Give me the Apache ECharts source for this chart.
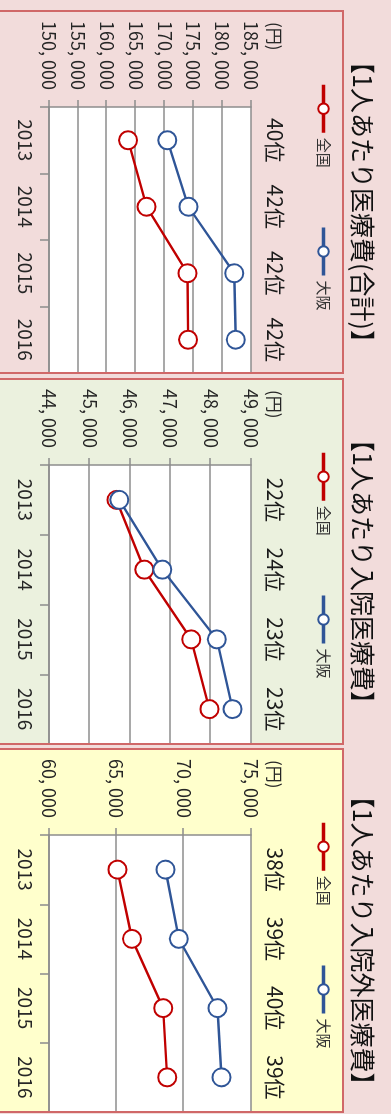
<!DOCTYPE html>
<html lang="ja">
<head>
<meta charset="utf-8">
<title>1人あたり医療費</title>
<script src="https://cdn.jsdelivr.net/npm/echarts@6/dist/echarts.min.js"></script>
<style>
  html, body { margin: 0; padding: 0; background: #f2dcdb; overflow: hidden; width: 391px; height: 1114px; }
  /* the chart is laid out landscape and turned a quarter turn clockwise */
  #chart {
    position: absolute; left: 0; top: 0;
    width: 1114px; height: 391px;
    transform-origin: 0 0;
    transform: translate(391px, 0) rotate(90deg);
  }
</style>
</head>
<body>
<div id="chart"></div>
<script>
// ---- data ----
const years = ['2013', '2014', '2015', '2016'];
const seriesNames = ['全国', '大阪'];

const titles = ['【1人あたり医療費(合計)】', '【1人あたり入院医療費】', '【1人あたり入院外医療費】'];

// 合計
const totalNational = [163700, 166900, 174000, 174100];
const totalOsaka    = [170500, 174150, 182100, 182350];
const totalRank     = ['40位', '42位', '42位', '42位'];
const totalAxis     = [150000, 185000, 5000];

// 入院
const inpatientNational = [45670, 46360, 47520, 47970];
const inpatientOsaka    = [45740, 46805, 48155, 48545];
const inpatientRank     = ['22位', '24位', '23位', '23位'];
const inpatientAxis     = [44000, 49000, 1000];

// 入院外
const outpatientNational = [65080, 66160, 68475, 68775];
const outpatientOsaka    = [68650, 69640, 72510, 72810];
const outpatientRank     = ['38位', '39位', '40位', '39位'];
const outpatientAxis     = [60000, 75000, 5000];

const unitLabel = '(円)';

// ---- layout & style ----
const panels = [
  { national: totalNational, osaka: totalOsaka, rank: totalRank, axis: totalAxis,
    box: [11, 373], fill: '#f2dcdb', plotLeft: 107 },
  { national: inpatientNational, osaka: inpatientOsaka, rank: inpatientRank, axis: inpatientAxis,
    box: [379, 744], fill: '#ebf1de', plotLeft: 465 },
  { national: outpatientNational, osaka: outpatientOsaka, rank: outpatientRank, axis: outpatientAxis,
    box: [749, 1112], fill: '#ffffcc', plotLeft: 835 }
];

const RED = '#c00000';
const BLUE = '#2f5597';
const GRID_GRAY = '#8c8c8c';
const TEXT = '#262626';
const FONT = '"Noto Sans CJK JP", "Noto Sans", sans-serif';
const PLOT_TOP = 140;
const PLOT_HEIGHT = 202;

function yen(v) {
  const k = Math.floor(v / 1000);
  const r = String(v % 1000).padStart(3, '0');
  return k + ', ' + r;
}

const option = {
  backgroundColor: '#f2dcdb',
  animation: false,
  title: [], legend: [], grid: [], xAxis: [], yAxis: [], series: [], graphic: []
};

panels.forEach((p, i) => {
  const [x0, x1] = p.box;

  // panel box: fill underneath, border on top
  option.graphic.push({
    type: 'rect', z: -10, silent: true,
    shape: { x: x0, y: 48, width: x1 - x0, height: 360 },
    style: { fill: p.fill }
  });
  option.graphic.push({
    type: 'rect', z: 100, silent: true,
    shape: { x: x0, y: 48, width: x1 - x0, height: 360 },
    style: { fill: 'none', stroke: '#d06868', lineWidth: 2 }
  });
  option.graphic.push({
    type: 'text', z: 50, silent: true,
    style: { x: x0 + 11, y: 117, text: unitLabel, font: '17px ' + FONT, fill: TEXT,
             textVerticalAlign: 'middle' }
  });

  option.title.push({
    text: titles[i],
    left: (x0 + x1) / 2 + 5, top: 11, textAlign: 'center',
    textStyle: { fontFamily: FONT, fontSize: 25, fontWeight: 'normal', color: '#111' }
  });

  option.legend.push({
    data: seriesNames,
    left: x0 + 67, top: 55,
    itemWidth: 48, itemHeight: 13, itemGap: 58,
    lineStyle: { width: 3.5 },
    itemStyle: { borderWidth: 2.5 },
    textStyle: { fontFamily: FONT, fontSize: 15, color: '#333' }
  });

  option.grid.push({
    left: p.plotLeft, top: PLOT_TOP, width: x1 - p.plotLeft, height: PLOT_HEIGHT,
    show: true, backgroundColor: '#ffffff', borderWidth: 0
  });

  // years along the bottom
  option.xAxis.push({
    type: 'category', gridIndex: i, data: years, boundaryGap: true,
    axisLine: { lineStyle: { color: GRID_GRAY, width: 1.5 } },
    axisTick: { show: true, length: 9, lineStyle: { color: GRID_GRAY, width: 1.5 } },
    axisLabel: { fontFamily: FONT, fontSize: 19, color: TEXT, margin: 14 }
  });
  // prefectural rank along the top
  option.xAxis.push({
    type: 'category', gridIndex: i, data: p.rank, position: 'top', boundaryGap: true,
    axisLine: { show: false }, axisTick: { show: false },
    axisLabel: { fontFamily: FONT, fontSize: 21, color: '#1a1a1a', margin: 13 }
  });

  option.yAxis.push({
    type: 'value', gridIndex: i,
    min: p.axis[0], max: p.axis[1], interval: p.axis[2],
    axisLine: { show: true, lineStyle: { color: GRID_GRAY, width: 1.5 } },
    axisTick: { show: true, length: 7, lineStyle: { color: GRID_GRAY, width: 1.5 } },
    splitLine: { show: true, lineStyle: { color: GRID_GRAY, width: 1.5 } },
    axisLabel: { fontFamily: FONT, fontSize: 18, color: TEXT, margin: 17, formatter: yen }
  });

  [[seriesNames[0], p.national, RED], [seriesNames[1], p.osaka, BLUE]].forEach(([name, data, color]) => {
    option.series.push({
      type: 'line', name, data,
      xAxisIndex: i * 2, yAxisIndex: i,
      symbol: 'emptyCircle', symbolSize: 18,
      lineStyle: { color, width: 2.4 },
      itemStyle: { color, borderColor: color, borderWidth: 3 },
      emphasis: { disabled: true }
    });
  });
});

const chart = echarts.init(document.getElementById('chart'), null, { renderer: 'canvas' });
chart.setOption(option);
</script>
</body>
</html>
